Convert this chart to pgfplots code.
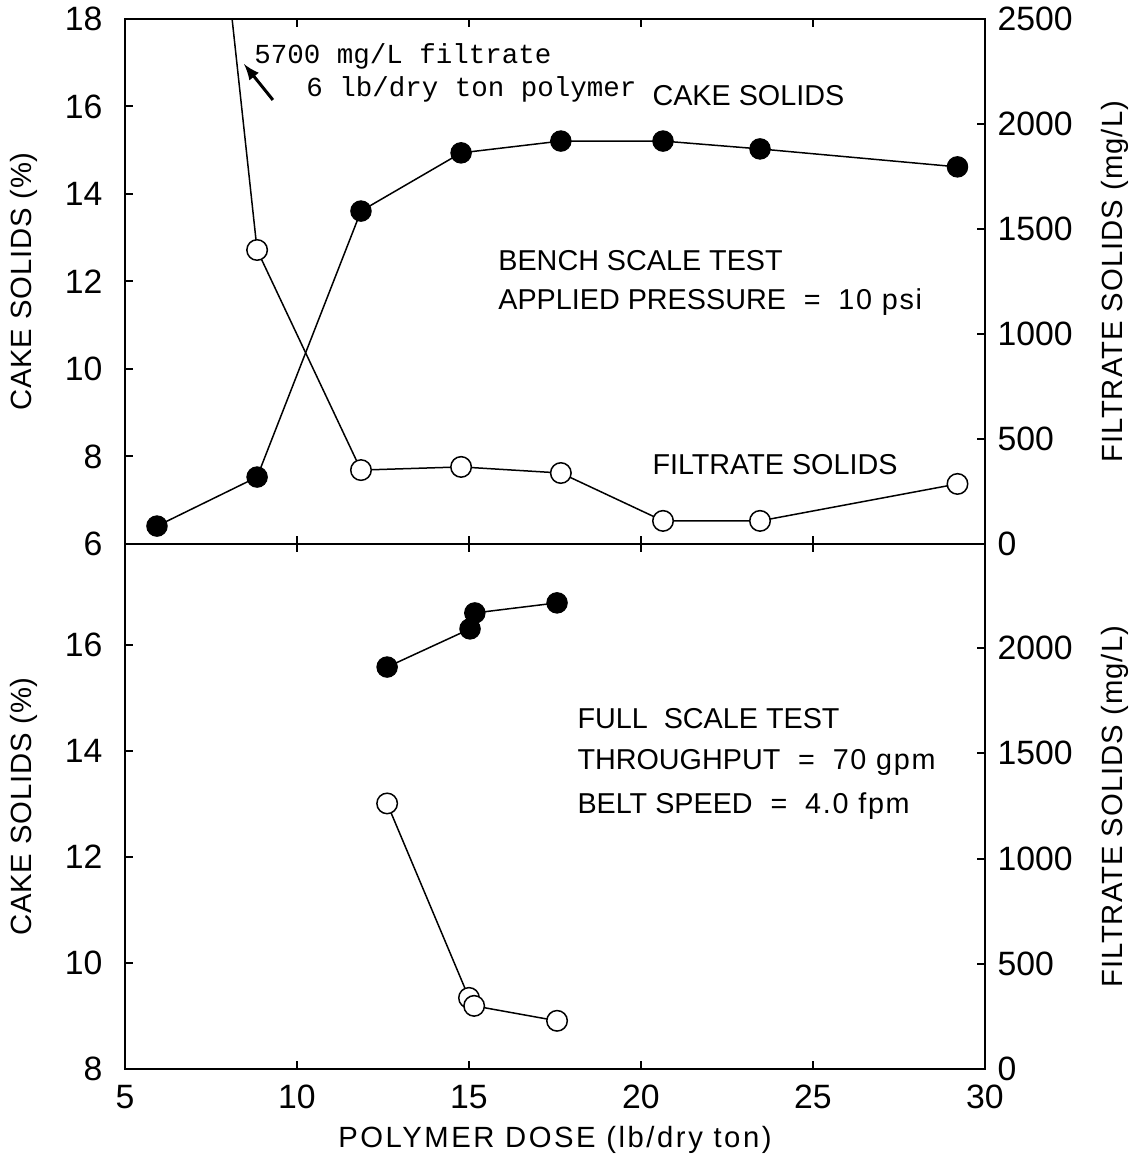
\documentclass[border=0pt]{standalone}
\usepackage{fontspec}
\setmainfont{Liberation Sans}
\setmonofont{Liberation Mono}
\newfontfamily\ylabfont[LetterSpace=2.8]{Liberation Sans}
\newfontfamily\ylabrfont[LetterSpace=3.5]{Liberation Sans}
\newfontfamily\xlabfont[LetterSpace=8.7]{Liberation Sans}
\newfontfamily\lsfont[LetterSpace=6]{Liberation Sans}
\newcommand\eq{\hspace{0.62em}=\hspace{0.62em}}
\usepackage{pgfplots}
\pgfplotsset{compat=1.18}
\tikzset{ann/.style={anchor=west, inner sep=0pt, font=\fontsize{11.5}{14}\selectfont}}
\pgfplotsset{
  panel/.style={scale only axis, width=344pt, height=210pt, xmin=5, xmax=30,
    tick align=inside, major tick length=3.2pt,
    axis line style={line width=0.8pt}, every tick/.style={black, line width=0.8pt},
    tick label style={font=\fontsize{13.5}{16}\selectfont},
    /pgf/number format/assume math mode=true, /pgf/number format/1000 sep={},
    xtick={5,10,...,30},
    yticklabel style={xshift=-5.5pt},
  },
  rightpanel/.style={panel, axis y line*=right, axis x line=none,
    ymin=0, ymax=2500,
    yticklabel style={xshift=7pt},
    every axis y label/.style={at={(axis description cs:1.151,0.5)}, rotate=90, anchor=center, font=\ylabrfont\fontsize{11.7}{14}\selectfont},
  },
  leftlab/.style={every axis y label/.style={at={(axis description cs:-0.118,0.5)}, rotate=90, anchor=center, font=\ylabfont\fontsize{11.7}{14}\selectfont}},
  fill mark/.style={only marks, mark=*, mark size=4.1pt, mark options={fill=black}},
  open mark/.style={only marks, mark=*, mark size=4.1pt, mark options={fill=white, line width=0.6pt}},
  dline/.style={no markers, line width=0.6pt},
}
\begin{document}
\begin{tikzpicture}
% ---------------- top panel -----------------
\begin{axis}[panel, leftlab, at={(0,210pt)}, anchor=south west,
  ymin=6, ymax=18, ytick={6,8,...,18}, ytick pos=left, xticklabels={},
  ylabel={CAKE SOLIDS (\%)}]
\addplot[dline] coordinates {(5.93,6.41) (8.84,7.53) (11.86,13.61) (14.77,14.94) (17.67,15.21) (20.64,15.21) (23.46,15.03) (29.2,14.62)};
\addplot[fill mark] coordinates {(5.93,6.41) (8.84,7.53) (11.86,13.61) (14.77,14.94) (17.67,15.21) (20.64,15.21) (23.46,15.03) (29.2,14.62)};
\node[ann] at (axis cs:20.32,16.26) {CAKE SOLIDS};
\node[ann] at (axis cs:15.84,12.47) {BENCH SCALE TEST};
\node[ann] at (axis cs:15.84,11.53) {APPLIED PRESSURE\eq{\lsfont 10 psi}};
\node[ann] at (axis cs:20.32,7.81) {FILTRATE SOLIDS};
\node[anchor=west, inner sep=0pt, font=\ttfamily\fontsize{11}{13}\selectfont] at (axis cs:8.75,17.15) {5700 mg/L filtrate};
\node[anchor=west, inner sep=0pt, font=\ttfamily\fontsize{11}{13}\selectfont] at (axis cs:10.26,16.4) {6 lb/dry ton polymer};
\draw[-latex, line width=1.2pt] (axis cs:9.30,16.15) -- (axis cs:8.46,16.97);
\end{axis}
\begin{axis}[rightpanel, at={(0,210pt)}, anchor=south west,
  ytick={0,500,...,2500}, ylabel={FILTRATE SOLIDS (mg/L)}]
\addplot[dline] coordinates {(6,5700) (8.84,1400) (11.86,352) (14.77,367) (17.67,338) (20.64,110) (23.46,110) (29.2,286)};
\addplot[open mark] coordinates {(8.84,1400) (11.86,352) (14.77,367) (17.67,338) (20.64,110) (23.46,110) (29.2,286)};
\end{axis}
% ---------------- bottom panel -----------------
\begin{axis}[panel, leftlab, at={(0,0)}, anchor=south west,
  ymin=8, ymax=17.9, ytick={8,10,...,16}, ytick pos=left,
  xticklabel style={yshift=-3pt},
  ylabel={CAKE SOLIDS (\%)}, xlabel={POLYMER DOSE (lb/dry ton)},
  every axis x label/.style={at={(axis description cs:0.5,-0.135)}, anchor=center, font=\xlabfont\fontsize{11.7}{14}\selectfont}]
\addplot[dline] coordinates {(12.62,15.58) (15.03,16.30) (15.17,16.60) (17.56,16.79)};
\addplot[fill mark] coordinates {(12.62,15.58) (15.03,16.30) (15.17,16.60) (17.56,16.79)};
\node[ann] at (axis cs:18.14,14.6) {FULL\ \ SCALE TEST};
\node[ann] at (axis cs:18.14,13.79) {THROUGHPUT\eq{\lsfont 70 gpm}};
\node[ann] at (axis cs:18.14,12.96) {BELT SPEED\eq{\lsfont 4.0 fpm}};
\end{axis}
\begin{axis}[rightpanel, at={(0,0)}, anchor=south west,
  ymin=0, ymax=2495, ytick={0,500,...,2000}, ylabel={FILTRATE SOLIDS (mg/L)}]
\addplot[dline] coordinates {(12.62,1262) (15.0,338) (15.15,300) (17.56,229)};
\addplot[open mark] coordinates {(12.62,1262) (15.0,338) (15.15,300) (17.56,229)};
\end{axis}
\pgfresetboundingbox
\path[use as bounding box] (-50pt,-38.4pt) rectangle (406pt,427.6pt);
\end{tikzpicture}
\end{document}
